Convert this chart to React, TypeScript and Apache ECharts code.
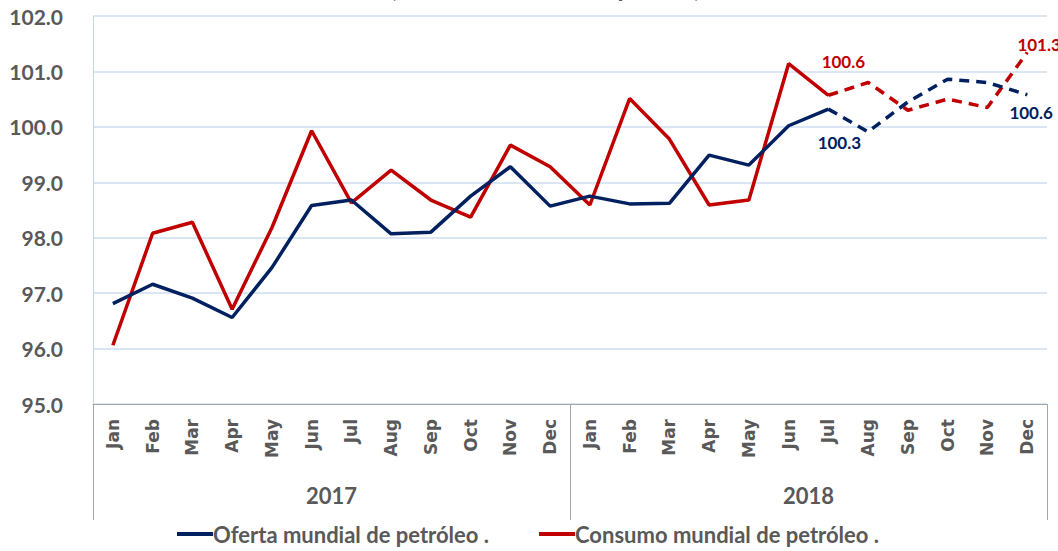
import React, { useEffect, useRef } from "react";
import * as echarts from "echarts";

const months = ["Jan", "Feb", "Mar", "Apr", "May", "Jun", "Jul", "Aug", "Sep", "Oct", "Nov", "Dec"];
const years = ["2017", "2018"];
const categories = [...months, ...months];
const oferta = [96.81, 97.16, 96.91, 96.56, 97.46, 98.58, 98.68, 98.07, 98.1, 98.75, 99.28, 98.57,
  98.75, 98.61, 98.62, 99.49, 99.31, 100.02, 100.32, 99.91, 100.45, 100.86, 100.8, 100.58];
const consumo = [96.06, 98.08, 98.28, 96.71, 98.18, 99.93, 98.63, 99.22, 98.68, 98.37, 99.67, 99.28,
  98.59, 100.51, 99.78, 98.59, 98.68, 101.14, 100.57, 100.8, 100.3, 100.5, 100.35, 101.34];
const projStart = 18; // Jul 2018
const ofertaName = "Oferta mundial de petróleo .";
const consumoName = "Consumo mundial de petróleo .";
const titleText = "(millones de barriles por día)";

const BLUE = "#002060";
const RED = "#C00000";
const GRAY = "#595959";
const FONT = "Lato";

function labelItem(v: number, color: string, position: string, offset: number[]) {
  return {
    value: v,
    symbol: "circle",
    symbolSize: 1,
    itemStyle: { color },
    label: {
      show: true,
      position,
      offset,
      formatter: (p: any) => Number(p.value).toFixed(1),
      color,
      fontFamily: FONT,
      fontWeight: "bold",
      fontSize: 17,
    },
  };
}

export default function App() {
  const ref = useRef<HTMLDivElement>(null);
  useEffect(() => {
    document.body.style.margin = "0";
    const chart = echarts.init(ref.current!, null, { renderer: "svg" });
    const solid = (arr: number[]) => arr.map((v, i) => (i <= projStart ? v : null));
    const dashed = (arr: number[], labels: Record<number, any>) =>
      arr.map((v, i) => (i < projStart ? null : labels[i] ? labels[i] : v));
    const last = categories.length - 1;

    chart.setOption({
      animation: false,
      backgroundColor: "#ffffff",
      graphic: [
        {
          type: "text",
          left: 390,
          top: -26,
          style: { text: titleText, font: `bold 25px ${FONT}`, fill: GRAY },
        },
      ],
      grid: { left: 93, right: 11, top: 16, bottom: 147, containLabel: false },
      legend: {
        bottom: 1,
        left: 172,
        data: [ofertaName, consumoName],
        icon: "rect",
        itemWidth: 36,
        itemHeight: 4,
        itemGap: 50,
        textStyle: { fontFamily: FONT, fontWeight: "bold", fontSize: 22, color: GRAY, padding: [0, 0, 0, -5] },
      },
      xAxis: [
        {
          type: "category",
          data: categories,
          position: "bottom",
          axisLine: { show: true, lineStyle: { color: "#A6A6A6", width: 1 } },
          axisTick: { show: false },
          axisLabel: {
            interval: 0,
            rotate: 90,
            margin: 15,
            fontFamily: "DejaVu Sans",
            fontWeight: "bold",
            fontSize: 17,
            color: GRAY,
          },
        },
        {
          type: "category",
          data: years,
          position: "bottom",
          axisLine: { show: false },
          axisTick: { show: true, length: 116, interval: 0, lineStyle: { color: "#A6A6A6", width: 1 } },
          axisLabel: {
            interval: 0,
            margin: 80,
            fontFamily: FONT,
            fontWeight: "bold",
            fontSize: 22,
            color: GRAY,
          },
        },
      ],
      yAxis: {
        type: "value",
        min: 95,
        max: 102,
        interval: 1,
        axisLine: { show: true, lineStyle: { color: "#BDD7EE", width: 1 } },
        axisTick: { show: false },
        splitLine: { show: true, lineStyle: { color: "#DAE6F3", width: 2 } },
        axisLabel: {
          formatter: (v: number) => v.toFixed(1),
          margin: 30,
          fontFamily: FONT,
          fontWeight: "bold",
          fontSize: 21,
          color: GRAY,
        },
      },
      series: [
        {
          name: ofertaName,
          type: "line",
          data: solid(oferta),
          symbol: "none",
          color: BLUE,
          lineStyle: { color: BLUE, width: 3.5 },
          z: 3,
        },
        {
          name: consumoName,
          type: "line",
          data: solid(consumo),
          symbol: "none",
          color: RED,
          lineStyle: { color: RED, width: 3.5 },
          z: 2,
        },
        {
          name: "Oferta proyección",
          type: "line",
          symbol: "none",
          showSymbol: true,
          color: BLUE,
          data: dashed(oferta, {
            [projStart]: labelItem(oferta[projStart], BLUE, "bottom", [11, 19]),
            [last]: labelItem(oferta[last], BLUE, "bottom", [4, 4]),
          }),
          lineStyle: { color: BLUE, width: 3.5, type: [10, 7] },
          z: 3,
        },
        {
          name: "Consumo proyección",
          type: "line",
          symbol: "none",
          showSymbol: true,
          color: RED,
          data: dashed(consumo, {
            [projStart]: labelItem(consumo[projStart], RED, "top", [15, -20]),
            [last]: labelItem(consumo[last], RED, "top", [12, 6]),
          }),
          lineStyle: { color: RED, width: 3.5, type: [10, 7] },
          z: 2,
        },
      ],
    });
    return () => chart.dispose();
  }, []);
  return (
    <div
      ref={ref}
      style={{ position: "absolute", left: 0, top: 0, width: 1058, height: 551 }}
    />
  );
}
